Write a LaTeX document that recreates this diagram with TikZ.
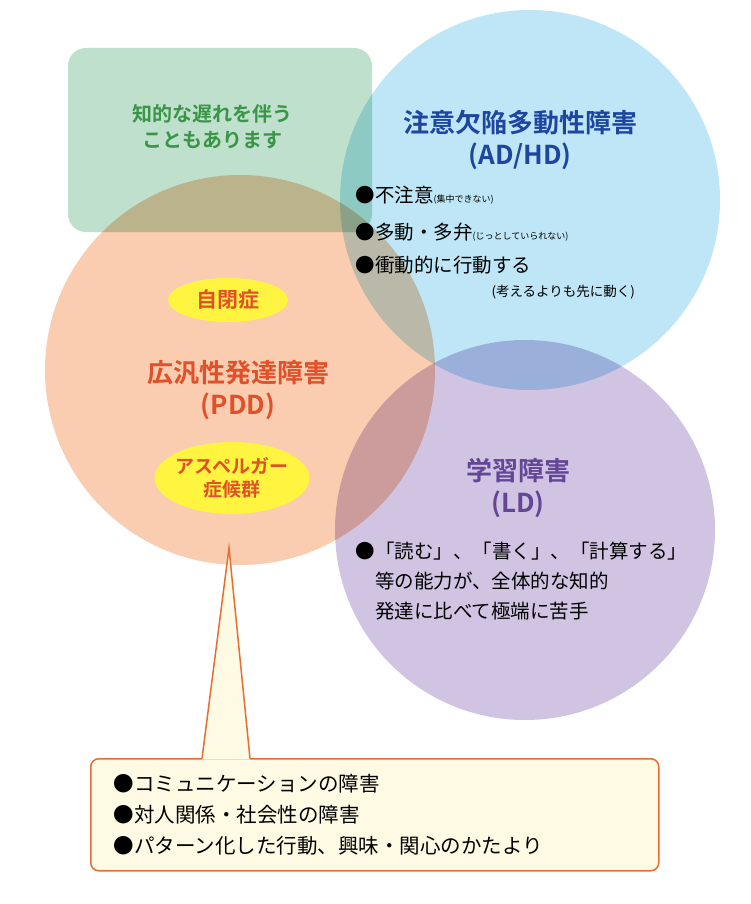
\documentclass[tikz,border=0pt]{standalone}
\usepackage{fontspec}
\usetikzlibrary{shapes.geometric}
\setmainfont{Noto Sans CJK JP}
\newfontfamily\cjkb{Noto Sans CJK JP Bold}
\begin{document}
\begin{tikzpicture}[x=1pt,y=-1pt,
  ttl/.style={font=\cjkb\fontsize{26}{32}\selectfont,align=center},
  body/.style={font=\fontsize{19.5}{26}\selectfont,align=left},
  small/.style={font=\fontsize{13.5}{16}\selectfont},
  yel/.style={ellipse,fill=yellow!75!white,minimum width=120,minimum height=44,inner sep=0}]
\useasboundingbox (0,0) rectangle (750,904);
\fill[white] (0,0) rectangle (750,904);
\begin{scope}[blend group=multiply]
\fill[color={rgb,255:red,190;green,224;blue,204},rounded corners=18] (68,48) rectangle (372,232);
\fill[color={rgb,255:red,250;green,204;blue,176}] (240,370) circle (195);
\fill[color={rgb,255:red,190;green,230;blue,246}] (530,200) circle (190);
\fill[color={rgb,255:red,208;green,196;blue,226}] (525,530) circle (190);
\end{scope}
\node[name=g,font=\cjkb\fontsize{20}{26}\selectfont,align=center,text={rgb,255:red,58;green,150;blue,70}] at (212,127) {知的な遅れを伴う\\こともあります};
\node[name=adhd,ttl,text={rgb,255:red,30;green,70;blue,160}] at (520,140) {注意欠陥多動性障害\\(AD/HD)};
\node[name=a1,body,anchor=west] at (352,195) {●不注意{\small (集中できない)}};
\node[name=a2,body,anchor=west] at (352,232) {●多動・多弁{\small (じっとしていられない)}};
\node[name=a3,body,anchor=west] at (352,265) {●衝動的に行動する};
\node[name=a4,small,anchor=west] at (488,292) {(考えるよりも先に動く)};
\node[name=e1,yel] at (228,300) {};
\node[font=\cjkb\fontsize{21}{25}\selectfont,text={rgb,255:red,225;green,80;blue,40}] at (e1) {自閉症};
\node[name=pdd,ttl,text={rgb,255:red,225;green,80;blue,40}] at (238,390) {広汎性発達障害\\(PDD)};
\node[name=e2,yel,minimum width=155,minimum height=72] at (232,478) {};
\node[font=\cjkb\fontsize{19}{23}\selectfont,align=center,text={rgb,255:red,225;green,80;blue,40}] at (e2) {アスペルガー\\症候群};
\node[name=ld,ttl,text={rgb,255:red,100;green,70;blue,150}] at (518,488) {学習障害\\(LD)};
\node[name=l1,body,anchor=north west,font=\fontsize{19.5}{30}\selectfont] at (352,538) {●「読む」、「書く」、「計算する」\\\hspace*{1em}等の能力が、全体的な知的\\\hspace*{1em}発達に比べて極端に苦手};
\coordinate (apex) at (229,548);
\node[name=box,draw={rgb,255:red,230;green,110;blue,50},line width=1.5pt,fill={rgb,255:red,255;green,250;blue,228},rounded corners=8,minimum width=568,minimum height=112,anchor=north west,inner sep=0] at (90,758) {};
\node[body,anchor=west,font=\fontsize{20.5}{31}\selectfont] at (110,815) {●コミュニケーションの障害\\●対人関係・社会性の障害\\●パターン化した行動、興味・関心のかたより};
\fill[color={rgb,255:red,255;green,250;blue,228}] (202,759.5) -- (apex) -- (250,759.5) -- cycle;
\draw[color={rgb,255:red,230;green,110;blue,50},line width=1.5pt,line join=miter] (202,758.6) -- (apex) -- (250,758.6);
\end{tikzpicture}
\end{document}
